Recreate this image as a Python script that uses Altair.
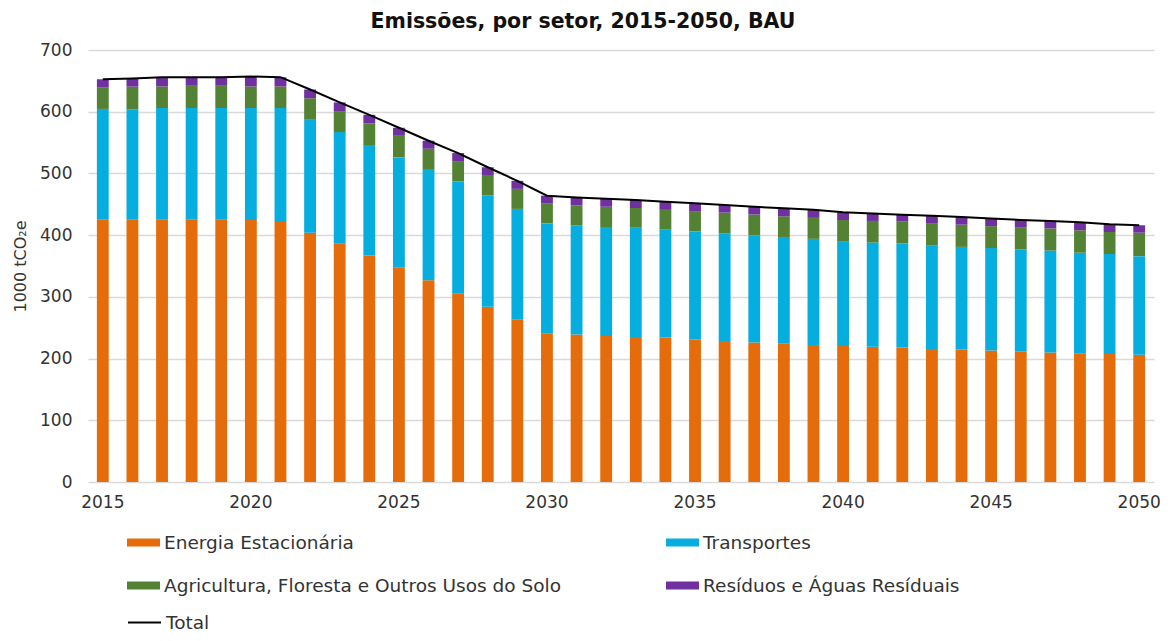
import altair as alt
import pandas as pd

years = list(range(2015, 2051))
energia = [425, 425, 425, 425, 425, 424.6, 423, 404, 386, 367,
           347, 327, 305, 284, 263, 241, 239, 236.6, 235, 234,
           231, 228.5, 226, 225, 222, 220.5, 219, 218, 215.5, 214.5,
           213, 212, 210, 208.5, 207.5, 206]
transportes = [179.5, 179, 181, 181, 181, 181.4, 183, 183, 181, 179,
               179, 180, 182, 180, 179.5, 178, 177, 176.4, 177, 175,
               175, 174.5, 174, 172, 172, 169, 169, 169, 168, 166.5,
               166, 164.5, 165, 163, 162, 160]
agricultura = [34.5, 36.6, 35, 36, 36, 35, 35, 35, 34, 35,
               35, 33, 33, 33.5, 32.5, 32, 32, 33, 32, 32,
               33, 33.5, 33.5, 33.6, 34, 35, 35, 35, 35, 36,
               35.6, 36.5, 36, 36.4, 35.5, 38]
residuos = [13.6, 13.4, 15, 14, 14, 16, 15, 14, 14, 14,
            13, 13, 13, 12.5, 13, 13, 13, 13, 13, 13,
            12.6, 12.5, 12.5, 13, 13, 12.4, 12, 11, 13, 12.5,
            12.4, 11.6, 12, 13, 12.6, 12]

sectors = ["Energia Estacionária", "Transportes",
           "Agricultura, Floresta e Outros Usos do Solo",
           "Resíduos e Águas Resíduais"]
colors = ["#E46C0A", "#06AEE0", "#548235", "#7030A0"]
y_ticks = [0, 100, 200, 300, 400, 500, 600, 700]

series = [energia, transportes, agricultura, residuos]
rows = []
for i, yr in enumerate(years):
    for k, (s, vals) in enumerate(zip(sectors, series)):
        rows.append({"Ano": yr, "Setor": s, "Valor": vals[i], "ordem": k})
df = pd.DataFrame(rows)
tot = pd.DataFrame({
    "Ano": years,
    "Total": [round(sum(v), 2) for v in zip(*series)],
    "Serie": ["Total"] * len(years),
})

FONT = "DejaVu Sans"
TXT = "#333333"

x_enc = alt.X(
    "Ano:O",
    scale=alt.Scale(paddingInner=0.6, paddingOuter=0.3),
    axis=alt.Axis(title=None, labelExpr="datum.value % 5 == 0 ? datum.label : ''",
                  labelAngle=0, ticks=False, domain=False, labelFontSize=17,
                  labelPadding=12, labelColor=TXT, labelFont=FONT),
)
y_axis = alt.Axis(values=y_ticks, title="1000 tCO₂e", ticks=False, domain=False,
                  labelFontSize=17, labelPadding=16, labelColor=TXT, labelFont=FONT,
                  titleFontSize=16, titleFont=FONT, titleFontWeight="normal",
                  titleColor=TXT, titlePadding=11, gridColor="#d9d9d9", gridWidth=1.3)

bars = alt.Chart(df).mark_bar().encode(
    x=x_enc,
    y=alt.Y("Valor:Q", stack="zero", scale=alt.Scale(domain=[0, 700]), axis=y_axis),
    color=alt.Color("Setor:N", scale=alt.Scale(domain=sectors, range=colors),
                    legend=alt.Legend(title=None, orient="none", legendX=39, legendY=476,
                                      direction="horizontal", columns=2, columnPadding=105,
                                      rowPadding=17,
                                      symbolType="M-1,-0.24H1V0.24H-1Z", symbolSize=1089,
                                      symbolStrokeWidth=0, labelFontSize=18.5, labelFont=FONT,
                                      labelColor=TXT, labelOffset=4, labelLimit=600)),
    order=alt.Order("ordem:Q", sort="ascending"),
)

line = alt.Chart(tot).mark_line(strokeWidth=2).encode(
    x=alt.X("Ano:O"),
    y=alt.Y("Total:Q", scale=alt.Scale(domain=[0, 700]), axis=y_axis),
    stroke=alt.Stroke("Serie:N", scale=alt.Scale(range=["black"]),
                      legend=alt.Legend(title=None, orient="none", legendX=39, legendY=555,
                                        symbolType="stroke", symbolSize=1089,
                                        symbolStrokeWidth=2, labelFontSize=18.5, labelFont=FONT,
                                        labelColor=TXT, labelOffset=4)),
)

chart = alt.layer(bars, line).resolve_legend(color="independent", stroke="independent").properties(
    width=1066, height=432,
    title=alt.Title("Emissões, por setor, 2015-2050, BAU", fontSize=20.5, fontWeight="bold",
                    font=FONT, color="#111111", anchor="middle", dx=-38, offset=9),
    autosize=alt.AutoSizeParams(type="none"),
    padding={"left": 80, "top": 42, "right": 10, "bottom": 151},
).configure_view(stroke=None)

chart.save("out.html", embed_options={"renderer": "svg", "actions": False})
